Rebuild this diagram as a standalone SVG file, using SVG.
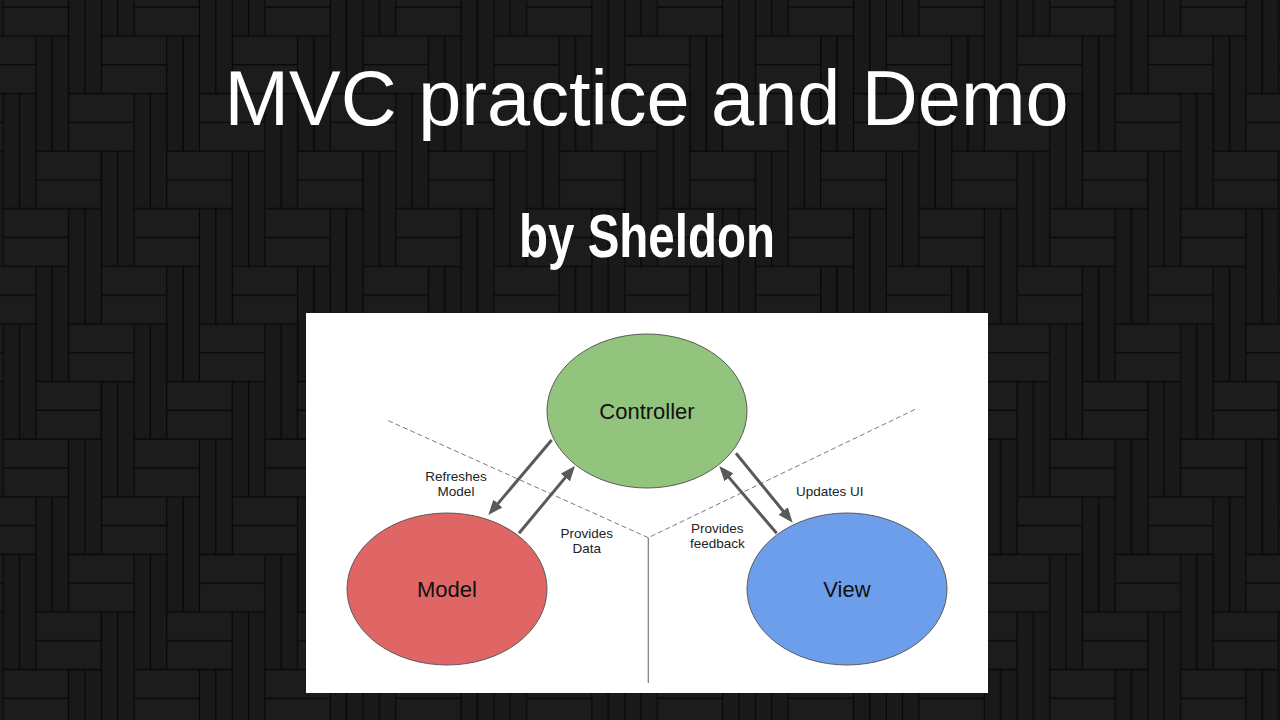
<svg xmlns="http://www.w3.org/2000/svg" xmlns:xlink="http://www.w3.org/1999/xlink" width="1280" height="720" viewBox="0 0 1280 720">
  <defs>
    <style>
      .pk { fill: #1c1c1c; stroke: #060606; stroke-width: 1.1; }
      .pv { fill: #191919; stroke: #060606; stroke-width: 1.1; }
      .title { font-family: "Liberation Sans", Arial, sans-serif; fill: #ffffff; }
      .node { stroke: #5a5a5a; stroke-width: 1; }
      .nodetext { font-family: "Liberation Sans", Arial, sans-serif; font-size: 22px; fill: #111; text-anchor: middle; }
      .lbl { font-family: "Liberation Sans", Arial, sans-serif; font-size: 13.5px; fill: #222; text-anchor: middle; }
      .arrow { stroke: #595959; stroke-width: 3; fill: none; marker-end: url(#head); }
      .dash { stroke: #7a7a7a; stroke-width: 1; stroke-dasharray: 5 3; fill: none; }
    </style>
    <rect id="hp" width="65.4" height="28.8"/>
    <rect id="vp" width="16.35" height="115.2"/>
    <pattern id="weave" patternUnits="userSpaceOnUse" x="3.3" y="36" width="130.8" height="230.4">
      <rect width="130.8" height="230.4" fill="#060606"/>
      <use href="#hp" class="pk" x="98.1" y="0"/>
      <use href="#hp" class="pk" x="98.1" y="28.8"/>
      <use href="#hp" class="pk" x="-32.7" y="0"/>
      <use href="#hp" class="pk" x="-32.7" y="28.8"/>
      <use href="#vp" class="pv" x="32.7" y="0"/>
      <use href="#vp" class="pv" x="49.05" y="0"/>
      <use href="#hp" class="pk" x="65.4" y="57.6"/>
      <use href="#hp" class="pk" x="65.4" y="86.4"/>
      <use href="#vp" class="pv" x="0" y="57.6"/>
      <use href="#vp" class="pv" x="16.35" y="57.6"/>
      <use href="#hp" class="pk" x="32.7" y="115.2"/>
      <use href="#hp" class="pk" x="32.7" y="144"/>
      <use href="#vp" class="pv" x="98.1" y="115.2"/>
      <use href="#vp" class="pv" x="114.45" y="115.2"/>
      <use href="#hp" class="pk" x="0" y="172.8"/>
      <use href="#hp" class="pk" x="0" y="201.6"/>
      <use href="#vp" class="pv" x="65.4" y="172.8"/>
      <use href="#vp" class="pv" x="81.75" y="172.8"/>
      <use href="#vp" class="pv" x="65.4" y="-57.6"/>
      <use href="#vp" class="pv" x="81.75" y="-57.6"/>
    </pattern>
    <marker id="head" markerUnits="userSpaceOnUse" markerWidth="15" markerHeight="12" viewBox="0 0 15 12" refX="6" refY="6" orient="auto">
      <path d="M0,0 L15,6 L0,12 z" fill="#595959"/>
    </marker>
  </defs>

  <g id="background">
    <rect width="1280" height="720" fill="url(#weave)"/>
  </g>

  <g id="titles">
    <text class="title" x="646.5" y="125" font-size="77.5" text-anchor="middle">MVC practice and Demo</text>
    <text class="title" x="519" y="257" font-size="61" font-weight="bold" textLength="256" lengthAdjust="spacingAndGlyphs">by Sheldon</text>
  </g>

  <g id="panel">
    <rect x="306" y="313" width="682" height="380" fill="#ffffff"/>
  </g>

  <g id="dividers">
    <polyline class="dash" points="388.3,420.7 648.3,537.7 917.3,408.3"/>
    <line x1="648.3" y1="537.7" x2="648.3" y2="683" stroke="#7a7a7a" stroke-width="1.2"/>
  </g>

  <g id="node-controller">
    <ellipse class="node" cx="647" cy="411" rx="100" ry="77" fill="#93c47d"/>
    <text class="nodetext" x="647" y="419">Controller</text>
  </g>

  <g id="node-model">
    <ellipse class="node" cx="447" cy="589" rx="100" ry="76" fill="#e06666"/>
    <text class="nodetext" x="447" y="597">Model</text>
  </g>

  <g id="node-view">
    <ellipse class="node" cx="847" cy="589" rx="100" ry="76" fill="#6d9eeb"/>
    <text class="nodetext" x="847" y="597">View</text>
  </g>

  <g id="connectors">
    <line class="arrow" x1="551.7" y1="440" x2="494.1" y2="508.1"/>
    <line class="arrow" x1="519" y1="533.3" x2="569.2" y2="472.9"/>
    <line class="arrow" x1="736" y1="453.3" x2="787.0" y2="515.7"/>
    <line class="arrow" x1="776.7" y1="533.3" x2="725.1" y2="472.9"/>
  </g>

  <g id="connector-labels">
    <text class="lbl" x="456" y="481">Refreshes</text>
    <text class="lbl" x="456" y="496">Model</text>
    <text class="lbl" x="586.7" y="538">Provides</text>
    <text class="lbl" x="586.7" y="553">Data</text>
    <text class="lbl" x="829.7" y="496">Updates UI</text>
    <text class="lbl" x="717.3" y="533">Provides</text>
    <text class="lbl" x="717.3" y="548">feedback</text>
  </g>
</svg>
